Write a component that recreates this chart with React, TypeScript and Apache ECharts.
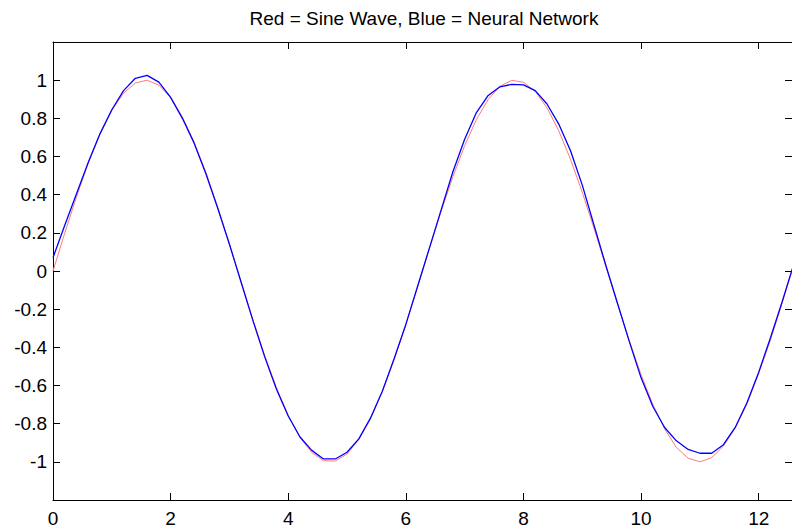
import React, { useEffect, useRef } from "react";
import * as echarts from "echarts";

const titleText = "Red = Sine Wave, Blue = Neural Network";

const xValues = [
  0, 0.2, 0.4, 0.6, 0.8, 1.0, 1.2, 1.4, 1.6, 1.8,
  2.0, 2.2, 2.4, 2.6, 2.8, 3.0, 3.2, 3.4, 3.6, 3.8,
  4.0, 4.2, 4.4, 4.6, 4.8, 5.0, 5.2, 5.4, 5.6, 5.8,
  6.0, 6.2, 6.4, 6.6, 6.8, 7.0, 7.2, 7.4, 7.6, 7.8,
  8.0, 8.2, 8.4, 8.6, 8.8, 9.0, 9.2, 9.4, 9.6, 9.8,
  10.0, 10.2, 10.4, 10.6, 10.8, 11.0, 11.2, 11.4, 11.6, 11.8,
  12.0, 12.2, 12.4, 12.6,
];

const sineValues = [
  0, 0.199, 0.389, 0.565, 0.717, 0.841, 0.932, 0.985, 1.0, 0.974,
  0.909, 0.808, 0.675, 0.516, 0.335, 0.141, -0.058, -0.256, -0.443, -0.612,
  -0.757, -0.872, -0.952, -0.994, -0.996, -0.959, -0.883, -0.773, -0.631, -0.465,
  -0.279, -0.083, 0.117, 0.312, 0.494, 0.657, 0.794, 0.899, 0.968, 0.999,
  0.989, 0.941, 0.855, 0.735, 0.585, 0.412, 0.223, 0.025, -0.174, -0.366,
  -0.544, -0.699, -0.828, -0.924, -0.981, -1.0, -0.978, -0.918, -0.823, -0.697,
  -0.537, -0.362, -0.166, 0.034,
];

const networkValues = [
  0.07, 0.24, 0.405, 0.57, 0.72, 0.845, 0.945, 1.01, 1.025, 0.99,
  0.91, 0.8, 0.67, 0.51, 0.33, 0.14, -0.06, -0.26, -0.45, -0.62,
  -0.76, -0.87, -0.94, -0.985, -0.985, -0.95, -0.88, -0.77, -0.63, -0.46,
  -0.28, -0.08, 0.12, 0.32, 0.52, 0.69, 0.83, 0.92, 0.965, 0.978,
  0.975, 0.945, 0.875, 0.77, 0.63, 0.45, 0.24, 0.03, -0.17, -0.37,
  -0.56, -0.71, -0.82, -0.89, -0.935, -0.955, -0.955, -0.91, -0.82, -0.69,
  -0.53, -0.35, -0.16, 0.04,
];

const xMin = 0;
const xMax = 12.566;
const xInterval = 2;
const yMin = -1.2;
const yMax = 1.2;
const yInterval = 0.2;

const FONT = "'Liberation Sans', Arial, sans-serif";

const makeAxisLine = () => ({ show: true, onZero: false, lineStyle: { color: "#000", width: 1 } });
const makeTick = () => ({
  show: true,
  inside: true,
  length: 7,
  lineStyle: { color: "#000", width: 1 },
});

export default function App() {
  const ref = useRef<HTMLDivElement>(null);

  useEffect(() => {
    if (!ref.current) return;
    const chart = echarts.init(ref.current, null, { renderer: "svg" });

    chart.setOption({
      animation: false,
      backgroundColor: "#fff",
      grid: { left: 53, top: 42, width: 742.4, height: 458, containLabel: false },
      graphic: [
        {
          type: "text",
          x: 424,
          y: 18,
          style: {
            text: titleText,
            fill: "#000",
            font: `19px ${FONT}`,
            textAlign: "center",
            textVerticalAlign: "middle",
          },
        },
      ],
      xAxis: [
        {
          type: "value",
          position: "bottom",
          min: xMin,
          max: xMax,
          interval: xInterval,
          splitLine: { show: false },
          axisLine: makeAxisLine(),
          axisTick: makeTick(),
          axisLabel: {
            show: true,
            showMaxLabel: false,
            margin: 9,
            color: "#000",
            fontSize: 19,
            fontFamily: FONT,
          },
        },
        {
          type: "value",
          position: "top",
          min: xMin,
          max: xMax,
          interval: xInterval,
          splitLine: { show: false },
          axisLine: makeAxisLine(),
          axisTick: makeTick(),
          axisLabel: { show: false },
        },
      ],
      yAxis: [
        {
          type: "value",
          position: "left",
          min: yMin,
          max: yMax,
          interval: yInterval,
          splitLine: { show: false },
          axisLine: makeAxisLine(),
          axisTick: makeTick(),
          axisLabel: {
            show: true,
            showMinLabel: false,
            showMaxLabel: false,
            margin: 6,
            color: "#000",
            fontSize: 19,
            fontFamily: FONT,
          },
        },
        {
          type: "value",
          position: "right",
          min: yMin,
          max: yMax,
          interval: yInterval,
          splitLine: { show: false },
          axisLine: makeAxisLine(),
          axisTick: makeTick(),
          axisLabel: { show: false },
        },
      ],
      series: [
        {
          name: "Sine Wave",
          type: "line",
          xAxisIndex: 0,
          yAxisIndex: 0,
          data: xValues.map((x, i) => [x, sineValues[i]]),
          showSymbol: false,
          symbol: "none",
          lineStyle: { color: "#ff7a7a", width: 1 },
          itemStyle: { color: "#ff7a7a" },
        },
        {
          name: "Neural Network",
          type: "line",
          xAxisIndex: 0,
          yAxisIndex: 0,
          data: xValues.map((x, i) => [x, networkValues[i]]),
          showSymbol: false,
          symbol: "none",
          lineStyle: { color: "#0000ff", width: 1.3 },
          itemStyle: { color: "#0000ff" },
        },
      ],
    });

    return () => chart.dispose();
  }, []);

  return (
    <div
      ref={ref}
      style={{ position: "absolute", left: 0, top: 0, width: 792, height: 529, background: "#fff" }}
    />
  );
}
